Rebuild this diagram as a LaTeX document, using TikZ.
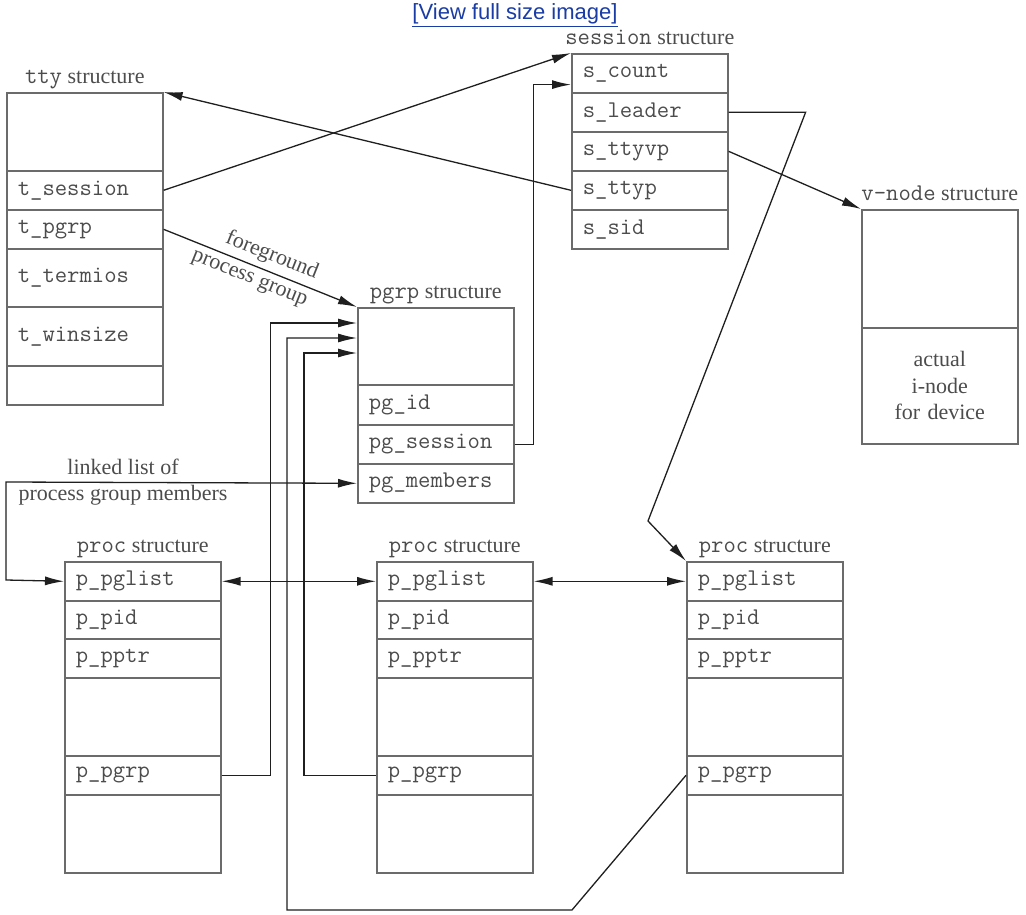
\documentclass[tikz,border=0pt]{standalone}
\usepackage{fontspec}
\setmainfont{Liberation Serif}
\newfontfamily\linkfont{Liberation Sans}
\usepackage{tikz}
\usetikzlibrary{arrows.meta}
\usetikzlibrary{positioning}
\definecolor{boxgray}{gray}{0.42}
\definecolor{textgray}{gray}{0.3}
\definecolor{linegray}{gray}{0.12}
\definecolor{linkblue}{RGB}{25,60,165}
\newcommand{\fieldtext}{\ttfamily\fontsize{24}{28}\selectfont}
\newcommand{\labeltext}{\fontsize{22}{26.5}\selectfont}
\newcommand{\linktext}{\linkfont\fontsize{22}{26}\selectfont}
\tikzset{
  field/.style={draw=boxgray, line width=1.6pt, rectangle, anchor=north west, minimum width=156pt, text width=134pt, inner xsep=11pt, inner ysep=0pt, align=left, font=\fieldtext, text=textgray},
  structlabel/.style={inner sep=0pt, text depth=5pt, anchor=south, font=\labeltext, text=textgray},
  fglabel/.style={font=\labeltext, text=textgray, inner sep=2pt},
  pointer/.style={draw=linegray, line width=1.3pt, -{Latex[length=19pt,width=9pt]}},
  twoway/.style={draw=linegray, line width=1.3pt, {Latex[length=19pt,width=9pt]}-{Latex[length=19pt,width=9pt]}}
}
\newcommand{\structfield}[4] {\node at (#1) (#2) [field, minimum height=#3pt] {#4};}
\newcommand{\structname}[3] {\node [structlabel, above=3pt of #1] (#2) {{\fieldtext #2} structure};}
\newcommand{\structpointer}[2] {\draw [pointer] (#1) -- (#2);}

\begin{document}
\begin{tikzpicture}[x=1pt, y=-1pt]
\useasboundingbox (0,0) rectangle (1026,915);

\node at (515,20) (viewlink) [anchor=base, inner sep=0pt, font=\linktext, text=linkblue] {\underline{[View full size image]}};

% tty
\structfield {6,92}{ttytop}{78}{};
\structfield {6,170}{tsession}{39}{t\_session};
\structfield {6,209}{tpgrp}{39}{t\_pgrp};
\structfield {6,248}{ttermios}{58}{t\_termios};
\structfield {6,306}{twinsize}{59}{t\_winsize};
\structfield {6,365}{ttybottom}{39}{};
\structname {ttytop}{tty}{};

% session
\structfield {571,53}{scount}{39}{s\_count};
\structfield {571,92}{sleader}{39}{s\_leader};
\structfield {571,131}{sttyvp}{39}{s\_ttyvp};
\structfield {571,170}{sttyp}{39}{s\_ttyp};
\structfield {571,209}{ssid}{39}{s\_sid};
\structname {scount}{session}{};

% v-node
\structfield {861,209}{vnodetop}{118}{};
\node at (861,327) (vnodeinode) [field, minimum height=116pt, align=center, font=\labeltext] {actual\\i-node\\for device};
\structname {vnodetop}{v-node}{};

% pgrp
\structfield {357,307}{pgrptop}{77}{};
\structfield {357,384}{pgid}{40}{pg\_id};
\structfield {357,424}{pgsession}{39}{pg\_session};
\structfield {357,463}{pgmembers}{39}{pg\_members};
\structname {pgrptop}{pgrp}{};

% proc
\structfield {64,561}{procApglist}{39}{p\_pglist};
\structfield {64,600}{procApid}{38}{p\_pid};
\structfield {64,638}{procApptr}{39}{p\_pptr};
\structfield {64,677}{procAgap}{78}{};
\structfield {64,755}{procApgrp}{39}{p\_pgrp};
\structfield {64,794}{procAbottom}{78}{};
\node [structlabel, above=3pt of procApglist] (procA) {{\fieldtext proc} structure};

\structfield {376,561}{procBpglist}{39}{p\_pglist};
\structfield {376,600}{procBpid}{38}{p\_pid};
\structfield {376,638}{procBpptr}{39}{p\_pptr};
\structfield {376,677}{procBgap}{78}{};
\structfield {376,755}{procBpgrp}{39}{p\_pgrp};
\structfield {376,794}{procBbottom}{78}{};
\node [structlabel, above=3pt of procBpglist] (procB) {{\fieldtext proc} structure};

\structfield {686,561}{procCpglist}{39}{p\_pglist};
\structfield {686,600}{procCpid}{38}{p\_pid};
\structfield {686,638}{procCpptr}{39}{p\_pptr};
\structfield {686,677}{procCgap}{78}{};
\structfield {686,755}{procCpgrp}{39}{p\_pgrp};
\structfield {686,794}{procCbottom}{78}{};
\node [structlabel, above=3pt of procCpglist] (procC) {{\fieldtext proc} structure};

% pointers
\structpointer {tsession.east}{scount.north west};
\structpointer {sttyp.west}{ttytop.north east};
\structpointer {sttyvp.east}{vnodetop.north west};
\draw [pointer] (tpgrp.east) -- node [fglabel, sloped, above, inner sep=5pt, pos=0.53] (fgupper) {foreground} node [fglabel, sloped, below, inner sep=6pt, pos=0.47] (fglower) {process group} (pgrptop.north west);
\draw [pointer] (pgsession.east) -- ++(19,0) |- ([yshift=9pt]scount.south west);

\coordinate (leaderbend) at (648,521);
\draw [pointer] (sleader.east) -- ++(77,0) -- (leaderbend) -- (procCpglist.north west);

\draw [pointer] (procApgrp.east) -- ++(49,0) |- ([yshift=-16pt]pgrptop.north west);
\draw [pointer] (procBpgrp.west) -- ++(-72,0) |- ([yshift=-46pt]pgrptop.north west);
\coordinate (pgrpbend) at (572,910);
\draw [pointer] (procCpgrp.west) -- (pgrpbend) -- ++(-285,0) |- ([yshift=-31pt]pgrptop.north west);

% process group members
\coordinate (listtop) at (6,482);
\coordinate (listbottom) at (6,580);
\draw [twoway] (pgmembers.west) -- (listtop) -- (listbottom) -- (procApglist.west);
\node at (123,474) (listupper) [fglabel, anchor=base] {linked list of};
\node at (123,500) (listlower) [fglabel, anchor=base] {process group members};

\draw [twoway] (procApglist.east) -- (procBpglist.west);
\draw [twoway] (procBpglist.east) -- (procCpglist.west);

\end{tikzpicture}
\end{document}
